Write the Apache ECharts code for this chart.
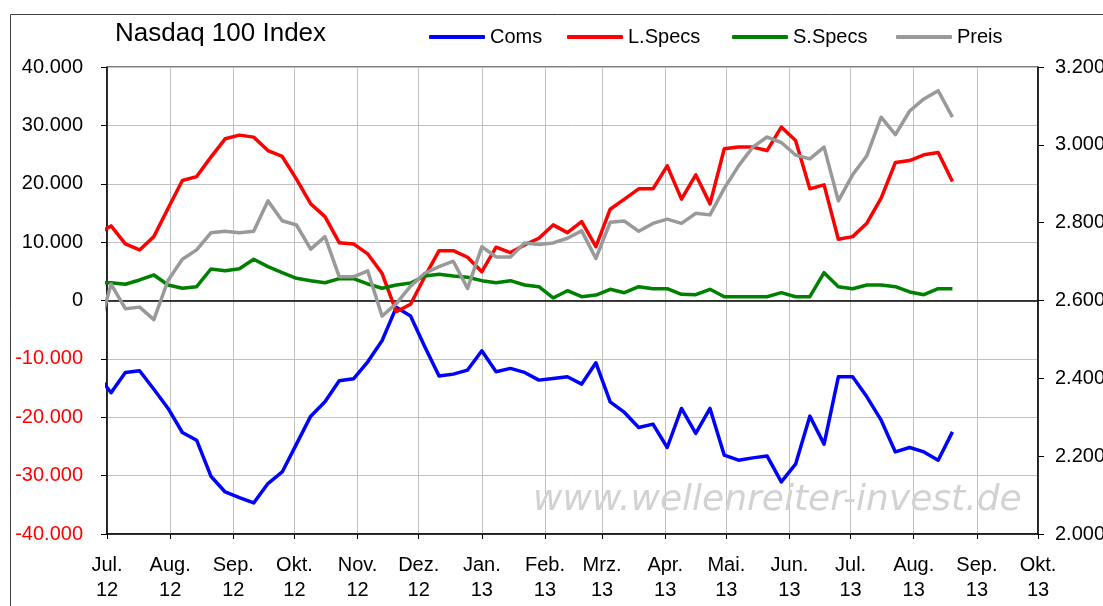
<!DOCTYPE html>
<html>
<head>
<meta charset="utf-8">
<script src="https://cdn.jsdelivr.net/npm/echarts@6/dist/echarts.min.js"></script>
<style>
html,body{margin:0;padding:0;background:#fff;}
#chart{width:1103px;height:606px;}
</style>
</head>
<body>
<div id="chart"></div>
<script>
var dates = ['2012-06-26','2012-07-03','2012-07-10','2012-07-17','2012-07-24','2012-07-31',
'2012-08-07','2012-08-14','2012-08-21','2012-08-28','2012-09-04','2012-09-11','2012-09-18','2012-09-25',
'2012-10-02','2012-10-09','2012-10-16','2012-10-23','2012-10-30','2012-11-06','2012-11-13','2012-11-20','2012-11-27',
'2012-12-04','2012-12-11','2012-12-18','2012-12-25','2013-01-01','2013-01-08','2013-01-15','2013-01-22','2013-01-29',
'2013-02-05','2013-02-12','2013-02-19','2013-02-26','2013-03-05','2013-03-12','2013-03-19','2013-03-26',
'2013-04-02','2013-04-09','2013-04-16','2013-04-23','2013-04-30','2013-05-07','2013-05-14','2013-05-21','2013-05-28',
'2013-06-04','2013-06-11','2013-06-18','2013-06-25','2013-07-02','2013-07-09','2013-07-16','2013-07-23','2013-07-30',
'2013-08-06','2013-08-13','2013-08-20'];

var coms = [-12520,-15800,-12320,-12040,-15200,-18490,-22610,-23930,-30100,-32800,-33760,-34680,-31360,-29370,
-24610,-19810,-17360,-13760,-13410,-10500,-6900,-1170,-2660,-7920,-12950,-12610,-11920,-8610,-12210,-11630,
-12320,-13640,-13350,-13070,-14320,-10670,-17360,-19180,-21750,-21180,-25180,-18490,-22780,-18490,-26500,
-27360,-26960,-26620,-31080,-28040,-19810,-24610,-13070,-13070,-16500,-20500,-25940,-25180,-25940,-27360,-22500];

var lSpecs = [11370,12780,9690,8660,10940,15810,20550,21230,24560,27700,28330,27990,25690,24670,20790,16550,
14370,9910,9690,7980,4660,-1920,-650,4080,8540,8540,7410,4940,9130,8200,9520,10670,12950,11630,13520,9230,
15640,17360,19130,19130,23070,17360,21530,16550,25990,26280,26280,25690,29710,27410,19130,19810,10500,10940,
13240,17530,23640,23980,24960,25350,20380];

var sSpecs = [3050,3050,2780,3520,4370,2660,2090,2370,5400,5110,5450,7070,5800,4770,3810,3400,3050,3740,3740,
2830,2090,2660,3000,4200,4490,4200,3980,3400,3050,3400,2660,2370,430,1680,650,940,1920,1340,2370,2020,2020,
1060,1000,1920,650,650,650,650,1340,650,650,4770,2370,2020,2660,2660,2370,1460,1000,2020,2020];

var preis = [2511,2642,2579,2583,2551,2652,2706,2730,2774,2778,2774,2778,2856,2805,2794,2732,2764,2661,2661,
2676,2560,2592,2637,2670,2687,2701,2631,2738,2712,2712,2748,2744,2748,2760,2779,2708,2801,2804,2778,2798,
2809,2798,2824,2820,2888,2946,2994,3020,3006,2974,2964,2994,2856,2923,2972,3071,3026,3087,3118,3139,3071];

var monthLabels = ['Jan.','Feb.','Mrz.','Apr.','Mai.','Jun.','Jul.','Aug.','Sep.','Okt.','Nov.','Dez.'];
var seriesNames = ['Coms','L.Specs','S.Specs','Preis'];
var seriesColors = ['#0000ff','#ff0000','#008000','#999999'];
var titleText = 'Nasdaq 100 Index';
var watermark = 'www.wellenreiter-invest.de';

function pairs(vals){ return dates.map(function(d,i){ return [d, vals[i]]; }); }
function fmtNum(v){
  v = Number(v);
  var s = String(Math.abs(v)).replace(/\B(?=(\d{3})+(?!\d))/g,'.');
  return (v < 0 ? '-' : '') + s;
}
var FONT = 'Liberation Sans, Arial, sans-serif';

var chart = echarts.init(document.getElementById('chart'), null, {renderer:'canvas'});
var legendLefts = [429, 567, 732, 896];
var legends = seriesNames.map(function(n, i){
  return {
    data:[n], left: legendLefts[i], top: 26, padding: 0,
    itemWidth: 56, itemHeight: 4, icon: 'roundRect',
    textStyle: {fontFamily: FONT, fontSize: 20, color:'#000', lineHeight: 22}
  };
});

var option = {
  animation: false,
  backgroundColor: '#ffffff',
  title: {
    text: titleText, left: 115, top: 20, padding: 0,
    textStyle: {fontFamily: FONT, fontSize: 26, fontWeight: 'normal', color: '#000', lineHeight: 27}
  },
  legend: legends,
  graphic: [
    {type:'rect', left: 8, top: 12, shape:{x:0,y:0,width:1200,height:700}, silent:true, z:-10,
     style:{fill:'none', stroke:'#404040', lineWidth:1}},
    {type:'text', left: 533, top: 483, z: 1, silent: true,
     style:{text: watermark, fill:'#d2d2d2', font:'italic 36px "DejaVu Sans", sans-serif'}}
  ],
  grid: {left: 107, right: 65, top: 67, bottom: 72, containLabel: false, outerBoundsMode: 'none',
    show: true, borderColor: '#000', borderWidth: 1, backgroundColor:'transparent'},
  xAxis: {
    type: 'time', min: '2012-07-01', max: '2013-10-01', splitNumber: 15,
    minInterval: 28*86400000, maxInterval: 31*86400000,
    axisLine: {onZero: false, lineStyle: {color:'#000', width: 1.5}},
    axisTick: {show: true, length: 5, lineStyle: {color:'#000'}},
    splitLine: {show: true, lineStyle: {color:'#c0c0c0', width: 1}},
    axisLabel: {
      fontFamily: FONT, fontSize: 20, color:'#000', lineHeight: 25, margin: 19,
      showMinLabel: true, showMaxLabel: true, hideOverlap: false, interval: 0,
      formatter: function(v){ var d = new Date(v); return monthLabels[d.getMonth()] + '\n' + String(d.getFullYear()).slice(2); }
    }
  },
  yAxis: [
    {
      type: 'value', min: -40000, max: 40000, interval: 10000, position: 'left',
      axisLine: {show: true, lineStyle: {color:'#000', width: 1.5}},
      axisTick: {show: true, length: 6, lineStyle:{color:'#000'}},
      splitLine: {show: true, lineStyle: {color:'#c0c0c0', width: 1}},
      axisLabel: {fontFamily: FONT, fontSize: 20, margin: 24, formatter: fmtNum,
        color: function(v){ return Number(v) < 0 ? '#ff0000' : '#000000'; }}
    },
    {
      type: 'value', min: 2000, max: 3200, interval: 200, position: 'right',
      axisLine: {show: true, lineStyle: {color:'#000', width: 1.5}},
      axisTick: {show: true, length: 6, lineStyle:{color:'#000'}},
      splitLine: {show: false},
      axisLabel: {fontFamily: FONT, fontSize: 20, margin: 17, formatter: fmtNum, color:'#000'}
    }
  ],
  series: [
    {name: seriesNames[0], type:'line', yAxisIndex:0, data: pairs(coms), showSymbol:false, symbol:'none', z: 3,
     lineStyle:{color: seriesColors[0], width:3.5, join:'round'}, itemStyle:{color: seriesColors[0]},
     markLine:{silent:true, symbol:'none', label:{show:false}, lineStyle:{color:'#000', type:'solid', width:1.5},
       emphasis:{disabled:true}, data:[{yAxis:0}], z: 2}},
    {name: seriesNames[1], type:'line', yAxisIndex:0, data: pairs(lSpecs), showSymbol:false, symbol:'none', z: 4,
     lineStyle:{color: seriesColors[1], width:3.5, join:'round'}, itemStyle:{color: seriesColors[1]}},
    {name: seriesNames[2], type:'line', yAxisIndex:0, data: pairs(sSpecs), showSymbol:false, symbol:'none', z: 5,
     lineStyle:{color: seriesColors[2], width:3.5, join:'round'}, itemStyle:{color: seriesColors[2]}},
    {name: seriesNames[3], type:'line', yAxisIndex:1, data: pairs(preis), showSymbol:false, symbol:'none', z: 6,
     lineStyle:{color: seriesColors[3], width:3.5, join:'round'}, itemStyle:{color: seriesColors[3]}}
  ]
};
chart.setOption(option);
</script>
</body>
</html>
